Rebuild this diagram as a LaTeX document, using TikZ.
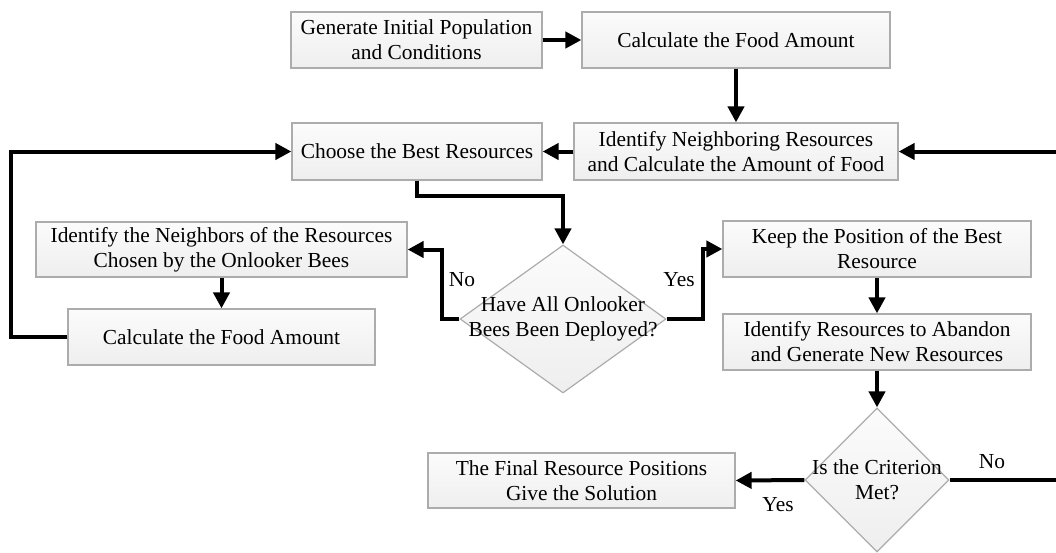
\documentclass[tikz,border=0pt]{standalone}
\usepackage{fontspec}
\setmainfont{Liberation Serif}
\usetikzlibrary{arrows.meta,shapes.geometric}
\begin{document}
\begin{tikzpicture}[x=1pt,y=-1pt,
  every node/.style={font=\fontsize{21.4}{25}\selectfont},
  procbox/.style={draw=gray!65, line width=1.2pt, rectangle,
    top color=gray!3, bottom color=gray!13, align=center, inner sep=0pt},
  decbox/.style={draw=gray!65, line width=1.2pt, diamond,
    top color=gray!3, bottom color=gray!13, inner sep=0pt},
  dectext/.style={align=center, inner sep=0pt},
  flow/.style={line width=4pt, -{Triangle[length=16pt,width=16pt]}},
  lbl/.style={inner sep=0pt}]
\useasboundingbox (0,0) rectangle (1056,552);
\clip (0,0) rectangle (1056,552);

% process boxes
\node[procbox, minimum width=251, minimum height=56] (gen) at (416.5,40)
  {Generate Initial Population\\and Conditions};
\node[procbox, minimum width=308, minimum height=56] (calcA) at (736,40)
  {Calculate the Food Amount};
\node[procbox, minimum width=324, minimum height=57] (idnb) at (736,151.5)
  {Identify Neighboring Resources\\and Calculate the Amount of Food};
\node[procbox, minimum width=250, minimum height=57] (choose) at (417,151.5)
  {Choose the Best Resources};
\node[procbox, minimum width=371, minimum height=55] (idon) at (221.5,249.5)
  {Identify the Neighbors of the Resources\\Chosen by the Onlooker Bees};
\node[procbox, minimum width=307, minimum height=56] (calcB) at (221.5,337)
  {Calculate the Food Amount};
\node[procbox, minimum width=308, minimum height=56] (keep) at (877,249)
  {Keep the Position of the Best\\Resource};
\node[procbox, minimum width=308, minimum height=56] (aband) at (877,342)
  {Identify Resources to Abandon\\and Generate New Resources};
\node[procbox, minimum width=307, minimum height=55] (final) at (581.5,480.5)
  {The Final Resource Positions\\Give the Solution};

% decisions
\node[decbox, minimum width=206, minimum height=148] (dA) at (563,319) {};
\node[dectext] (dAtext) at (dA.center) {Have All Onlooker\\Bees Been Deployed?};
\node[decbox, minimum width=144, minimum height=144] (dB) at (877,480) {};
\node[dectext] (dBtext) at (dB.center) {Is the Criterion\\Met?};

% connectors
\draw[flow] (gen.east) -- (calcA.west);
\draw[flow] (calcA.south) -- (idnb.north);
\draw[flow] (idnb.west) -- (choose.east);
\draw[flow] (calcB.west) -- ++(-56,0) |- (choose.west);
\draw[flow] (choose.south) -- ++(0,15) -| (dA.north);
\draw[flow] (dA.west) -- ++(-17,0) |- (idon.east);
\draw[flow] (idon.south) -- (calcB.north);
\draw[flow] (dA.east) -- ++(36,0) |- (keep.west);
\draw[flow] (keep.south) -- (aband.north);
\draw[flow] (aband.south) -- (dB.north);
\draw[flow] (dB.west) -- (final.east);
\draw[flow] (dB.east) -- ++(130,0) |- (idnb.east);

% branch labels
\node[lbl] (noA) at (462,280) {No};
\node[lbl] (yesA) at (679,280) {Yes};
\node[lbl] (yesB) at (778,505) {Yes};
\node[lbl] (noB) at (992,462) {No};
\end{tikzpicture}
\end{document}
